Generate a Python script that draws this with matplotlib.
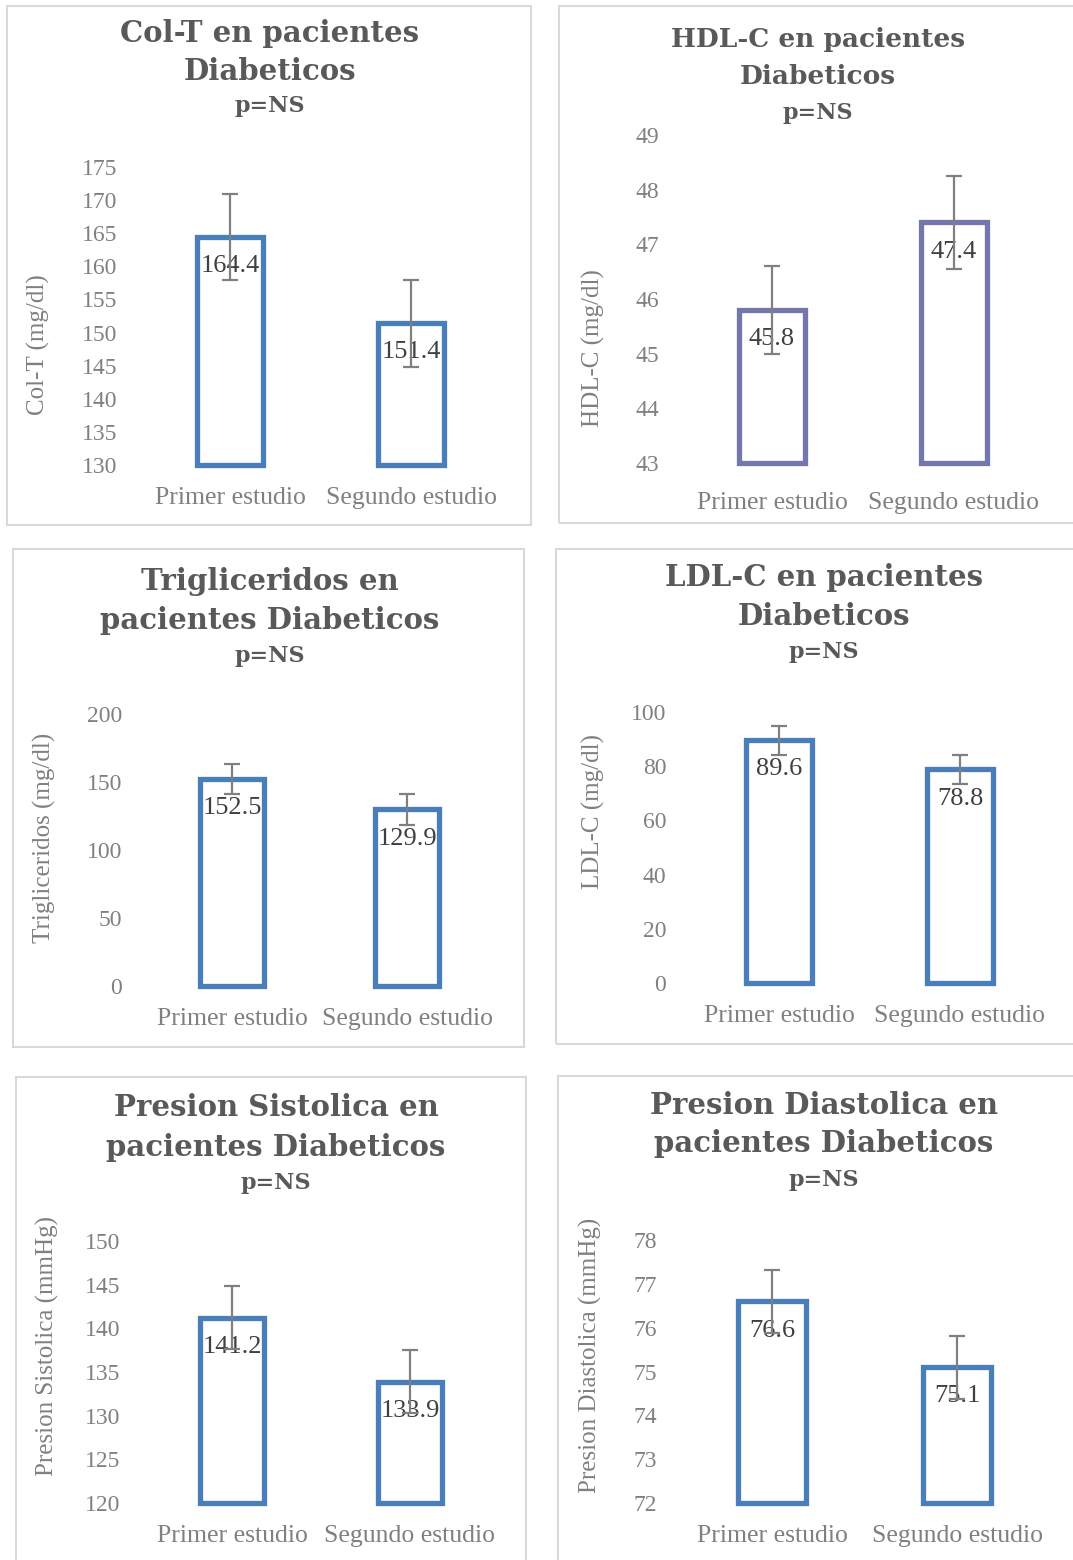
import matplotlib.pyplot as plt
import numpy as np
from matplotlib.patches import Rectangle

plt.rcParams['font.family'] = ['Liberation Serif', 'DejaVu Serif']

# --- data -------------------------------------------------------------
categories = ["Primer estudio", "Segundo estudio"]

colt = [164.4, 151.4]
colt_err = [6.5, 6.6]

hdl = [45.8, 47.4]
hdl_err = [0.8, 0.85]

trig = [152.5, 129.9]
trig_err = [11, 11.5]

ldl = [89.6, 78.8]
ldl_err = [5.3, 5.5]

sist = [141.2, 133.9]
sist_err = [3.6, 3.6]

diast = [76.6, 75.1]
diast_err = [0.72, 0.72]

titles = [["Col-T en pacientes", "Diabeticos"],
          ["HDL-C en pacientes", "Diabeticos"],
          ["Trigliceridos en", "pacientes Diabeticos"],
          ["LDL-C en pacientes", "Diabeticos"],
          ["Presion Sistolica en", "pacientes Diabeticos"],
          ["Presion Diastolica en", "pacientes Diabeticos"]]
ylabels = ["Col-T (mg/dl)", "HDL-C (mg/dl)", "Trigliceridos (mg/dl)",
           "LDL-C (mg/dl)", "Presion Sistolica (mmHg)",
           "Presion Diastolica (mmHg)"]
yticks = [np.arange(130, 176, 5), np.arange(43, 50, 1), np.arange(0, 201, 50),
          np.arange(0, 101, 20), np.arange(120, 151, 5), np.arange(72, 79, 1)]

# --- layout (pixels) --------------------------------------------------
W, H = 1073, 1560
BLUE = '#4a7ebb'
PURPLE = '#7477ab'
GRAY = '#808080'
TITLE_FONT = ['DejaVu Serif']

layout = [
    dict(box=(7, 6, 531, 525), area=(139.5, 167, 501.5, 465), tx=270, ty=(34, 72), py=106,
         lx=38, ly=345, color=BLUE, xpad=16, tsize=21),
    dict(box=(559, 6, 1085, 523), area=(681, 135, 1045, 463), tx=818, ty=(39, 76), py=113,
         lx=593, ly=348, color=PURPLE, xpad=21, tsize=19),
    dict(box=(13, 549, 524, 1047), area=(144.5, 714, 494.5, 986), tx=270, ty=(581, 621), py=656,
         lx=44, ly=838, color=BLUE, xpad=16, tsize=21),
    dict(box=(556, 549, 1085, 1044), area=(688.5, 712, 1050.5, 983), tx=824, ty=(578, 617), py=652,
         lx=593, ly=811, color=BLUE, xpad=16, tsize=21),
    dict(box=(16, 1077, 526, 1570), area=(143, 1241, 499, 1503), tx=276, ty=(1108, 1148), py=1183,
         lx=47, ly=1346, color=BLUE, xpad=16, tsize=21),
    dict(box=(558, 1076, 1085, 1570), area=(679.5, 1240, 1049.5, 1503), tx=824, ty=(1105, 1144), py=1180,
         lx=590, ly=1355, color=BLUE, xpad=16, tsize=21),
]

values = [colt, hdl, trig, ldl, sist, diast]
errors = [colt_err, hdl_err, trig_err, ldl_err, sist_err, diast_err]

fig = plt.figure(figsize=(W / 100, H / 100), dpi=100)

x = np.arange(len(categories))
for i, lay in enumerate(layout):
    bx0, by0, bx1, by1 = lay['box']
    fig.add_artist(Rectangle((bx0 / W, 1 - by1 / H), (bx1 - bx0) / W, (by1 - by0) / H,
                             transform=fig.transFigure, fill=False,
                             edgecolor='#d9d9d9', linewidth=1.5))

    l, t, r, b = lay['area']
    ax = fig.add_axes([l / W, 1 - b / H, (r - l) / W, (b - t) / H])
    ax.patch.set_alpha(0)
    ticks = yticks[i]
    ymin, ymax = ticks[0], ticks[-1]
    vals = np.array(values[i])

    ax.bar(x, vals - ymin, bottom=ymin, width=0.365, facecolor='white',
           edgecolor=lay['color'], linewidth=3.8, clip_on=False, zorder=2)
    ax.errorbar(x, vals, yerr=errors[i], fmt='none', ecolor=GRAY,
                elinewidth=1.6, capsize=6, capthick=1.6, zorder=4, clip_on=False)
    for xi, v in zip(x, vals):
        ax.annotate(f"{v:.1f}", (xi, v), xytext=(0, -21), textcoords='offset points',
                    ha='center', va='center', fontsize=19, color='#404040', zorder=3)

    ax.set_xlim(-0.5, 1.5)
    ax.set_ylim(ymin, ymax)
    ax.set_yticks(ticks)
    ax.set_xticks(x)
    ax.set_xticklabels(categories)
    for s in ax.spines.values():
        s.set_visible(False)
    ax.tick_params(axis='y', length=0, pad=16, labelsize=17, labelcolor=GRAY)
    ax.tick_params(axis='x', length=0, pad=lay['xpad'], labelsize=18.5, labelcolor=GRAY)

    for line, ty in zip(titles[i], lay['ty']):
        fig.text(lay['tx'] / W, 1 - ty / H, line, ha='center', va='center',
                 family=TITLE_FONT, fontsize=lay['tsize'], fontweight='bold', color='#595959')
    fig.text(lay['tx'] / W, 1 - lay['py'] / H, "p=NS", ha='center', va='center',
             family=TITLE_FONT, fontsize=16, fontweight='bold', color='#595959')
    fig.text(lay['lx'] / W, 1 - lay['ly'] / H, ylabels[i], ha='center', va='center',
             rotation=90, fontsize=18, color=GRAY)

fig.savefig('out.png', dpi=100)
plt.close(fig)
